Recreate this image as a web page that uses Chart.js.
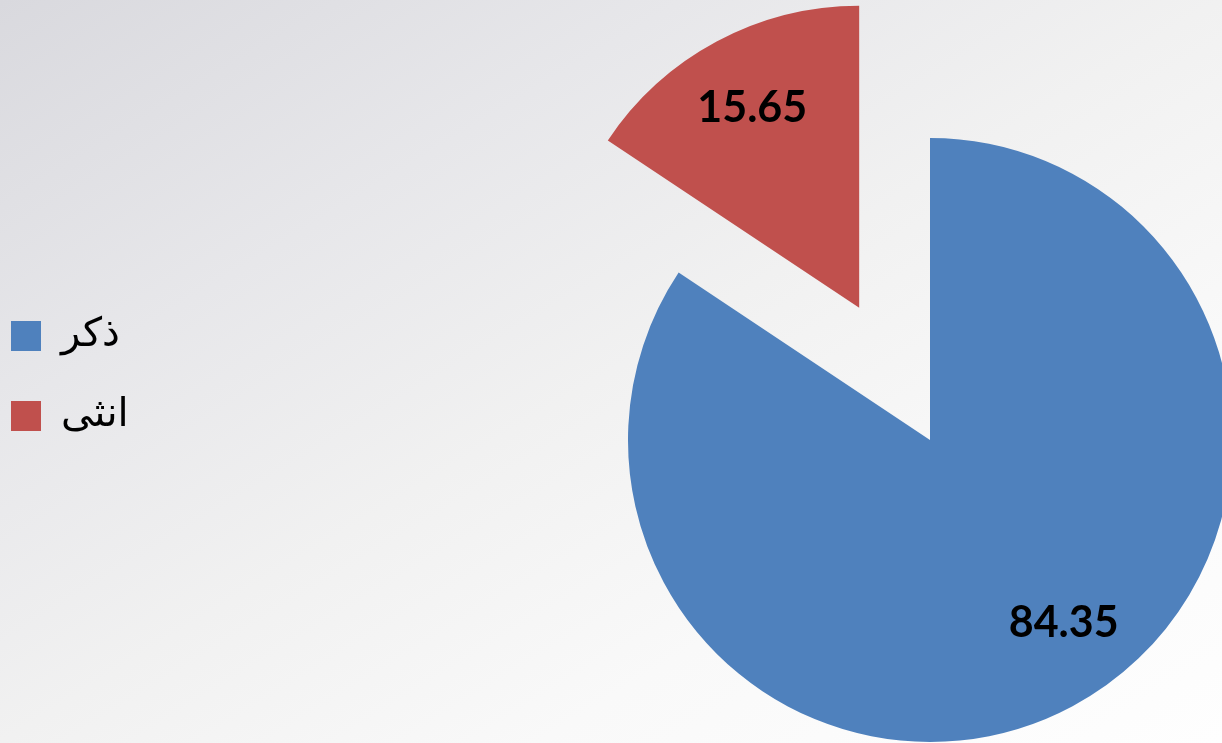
<!DOCTYPE html>
<html lang="ar">
<head>
<meta charset="utf-8">
<title>ذكر / انثى</title>
<script src="https://cdn.jsdelivr.net/npm/chart.js@4.4.1/dist/chart.umd.min.js"></script>
<style>
  html, body { margin: 0; padding: 0; width: 1222px; height: 743px; overflow: hidden; }
  body {
    position: relative;
    background: linear-gradient(to bottom right, #d9d9de 0%, #e7e7ea 28%, #f1f1f1 50%, #f9f9f9 72%, #fefefe 100%);
  }
  #wrap { position: absolute; left: -29px; top: 0; }
</style>
</head>
<body>
<div id="wrap"><canvas id="pie" width="1918" height="743"></canvas></div>
<script>
const categories = ["ذكر", "انثى"];
const percentages = [84.35, 15.65];
const sliceColors = ["#4F81BD", "#C0504D"];

// Pull a slice out of the pie. Chart.js "offset" also grows narrow slices, so shift them ourselves.
const explodePlugin = {
    id: "explode",
    beforeDatasetDraw(chart, args, opts) {
        const ctx = chart.ctx;
        args.meta.data.forEach((arc, i) => {
            const shift = opts.shift[i] || 0;
            const mid = (arc.startAngle + arc.endAngle) / 2;
            ctx.save();
            ctx.translate(Math.cos(mid) * shift, Math.sin(mid) * shift);
            arc.draw(ctx, chart.chartArea);
            ctx.restore();
        });
        return false; // skip the default draw
    }
};

// Value labels inside each slice
const sliceLabels = {
    id: "sliceLabels",
    afterDatasetsDraw(chart, args, opts) {
        const ctx = chart.ctx;
        const meta = chart.getDatasetMeta(0);
        const shift = chart.options.plugins.explode.shift;
        ctx.save();
        ctx.font = opts.font;
        ctx.fillStyle = opts.color;
        ctx.textAlign = "center";
        ctx.textBaseline = "middle";
        meta.data.forEach((arc, i) => {
            const p = arc.getProps(["x", "y", "startAngle", "endAngle", "outerRadius"], true);
            const mid = (p.startAngle + p.endAngle) / 2;
            const ang = mid + (opts.nudge[i] || 0) * Math.PI / 180;
            const r = p.outerRadius * opts.distance;
            const s = shift[i] || 0;
            const value = chart.data.datasets[0].data[i];
            ctx.fillText(value.toFixed(2),
                p.x + Math.cos(mid) * s + Math.cos(ang) * r,
                p.y + Math.sin(mid) * s + Math.sin(ang) * r);
        });
        ctx.restore();
    }
};

new Chart(document.getElementById("pie"), {
    type: "pie",
    data: {
        labels: categories,
        datasets: [{
            data: percentages,
            backgroundColor: sliceColors,
            borderWidth: 0,
            radius: 302,
            clip: false
        }]
    },
    options: {
        responsive: false,
        animation: false,
        layout: {
            padding: { top: 202, bottom: 65, left: 0, right: 0 }
        },
        plugins: {
            legend: {
                position: "chartArea",
                align: "end",
                labels: {
                    boxWidth: 30,
                    boxHeight: 30,
                    padding: 40,
                    color: "#000",
                    font: { family: "DejaVu Sans", size: 40 }
                }
            },
            tooltip: { enabled: false },
            explode: { shift: [0, 150] },
            sliceLabels: { font: "bold 43px Lato", color: "#000", distance: 0.75, nudge: [-8, 0] }
        }
    },
    plugins: [explodePlugin, sliceLabels]
});
</script>
</body>
</html>
